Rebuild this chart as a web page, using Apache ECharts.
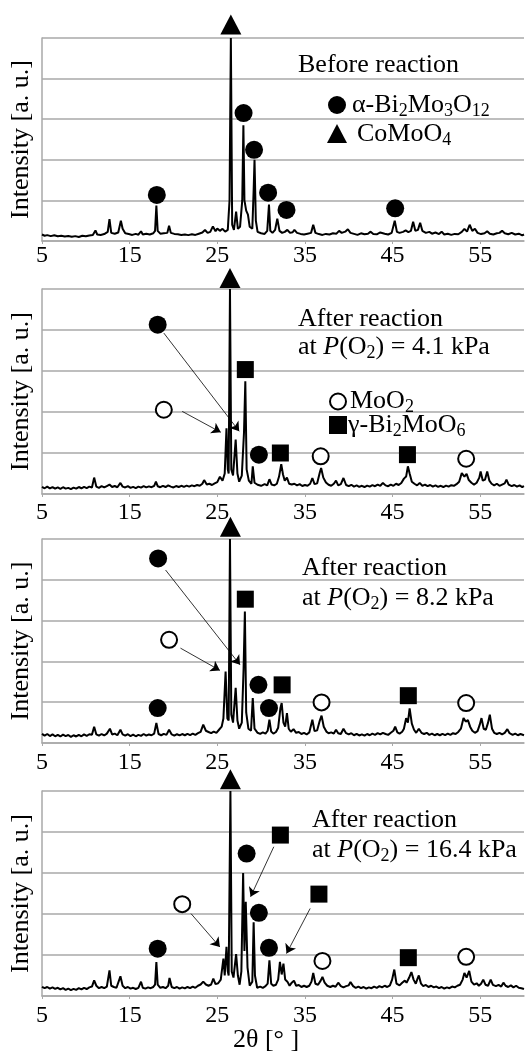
<!DOCTYPE html>
<html><head><meta charset="utf-8">
<script src="https://cdn.jsdelivr.net/npm/echarts@6/dist/echarts.min.js"></script>
<style>html,body{margin:0;padding:0;background:#fff}#c{width:527px;height:1052px}</style>
</head><body><div id="c"></div>
<script>
// ---- tick labels ----
const xTicks = [5, 15, 25, 35, 45, 55];
// ---- XRD patterns [2θ, intensity] ----
const beforeReaction = [[5,3.2],[5.3,2.6],[5.6,2.9],[6,2.4],[6.4,2.8],[6.8,2.3],[7.2,2.6],[7.6,2.2],[8,2.5],[8.4,2.1],[8.8,2.4],[9.2,2],[9.6,2.6],[10,2.3],[10.4,2.7],[10.8,3],[11.1,5.2],[11.3,3.2],[11.7,3],[12.1,3.4],[12.5,4.5],[12.7,10.8],[12.9,4],[13.3,3.6],[13.7,4.2],[14,10],[14.2,6],[14.5,3.8],[14.9,3.4],[15.3,3],[15.7,3.5],[16,3.1],[16.3,4.8],[16.5,3.2],[16.9,3.6],[17.3,3.2],[17.7,3.8],[17.9,5],[18.05,17.5],[18.2,5],[18.5,3.6],[18.9,3.8],[19.3,4],[19.5,7.5],[19.7,4],[20.1,3.5],[20.5,3.3],[20.9,3],[21.3,3.2],[21.7,2.9],[22.1,3.3],[22.5,3],[22.9,3.6],[23.3,4.2],[23.6,5.4],[23.9,4],[24.2,4.5],[24.5,7.2],[24.8,4.8],[25,6.2],[25.3,5],[25.6,6],[25.9,4.6],[26.2,5.5],[26.4,20],[26.55,100],[26.7,8],[26.9,5.5],[27.15,14.5],[27.35,6],[27.6,7],[27.85,20],[27.98,57],[28.1,20],[28.3,15],[28.5,13],[28.7,7],[29,6],[29.15,25],[29.25,40],[29.4,10],[29.6,4.5],[30,3.8],[30.4,3.5],[30.7,5],[30.9,18],[31.05,5],[31.3,4],[31.6,5.5],[31.85,11],[32.1,5],[32.4,4],[32.7,4.5],[33,5.5],[33.3,4],[33.6,4.3],[33.8,5.5],[34.1,4],[34.5,3.5],[34.9,3.2],[35.3,3.6],[35.7,4],[35.95,8],[36.2,4],[36.6,3.4],[37,3],[37.4,3.5],[37.8,3.2],[38.2,3.8],[38.6,3.6],[38.9,5],[39.2,4],[39.6,4.6],[39.9,5.8],[40.2,4],[40.6,3.5],[41,3],[41.4,3.8],[41.8,3.3],[42.2,3.6],[42.5,4.6],[42.8,3.5],[43.2,3.3],[43.6,4.2],[43.8,4.8],[44.1,3.6],[44.5,3.2],[44.9,4],[45.25,10],[45.5,4.5],[45.8,4],[46.2,4.5],[46.5,5.2],[46.8,4.4],[47.1,5],[47.35,9.5],[47.6,5],[47.9,5.5],[48.15,9],[48.4,5],[48.8,4],[49.2,4.5],[49.5,3.6],[49.9,4.2],[50.3,3.4],[50.6,4.6],[50.9,3.2],[51.3,3.6],[51.7,3],[52.1,3.5],[52.5,3.3],[52.9,4.5],[53.2,6],[53.5,4.6],[53.8,8],[54.1,5],[54.4,6],[54.7,4],[55.1,3.4],[55.5,3.8],[55.8,4.8],[56.1,3.6],[56.5,3.2],[56.9,3.8],[57.2,4],[57.5,5],[57.8,3.8],[58.2,3.3],[58.6,4],[59,3.2],[59.4,3.6],[59.8,2.8],[60,3.2]];
const after41 = [[5,3.5],[5.3,2.8],[5.6,3.6],[5.9,2.7],[6.2,3.4],[6.5,2.6],[6.8,3.2],[7.1,2.5],[7.4,3.3],[7.7,2.6],[8,3],[8.3,2.4],[8.6,3.1],[8.9,2.6],[9.2,3.4],[9.5,2.8],[9.8,3.5],[10.1,2.9],[10.4,3.6],[10.7,3.2],[10.95,8],[11.2,3.6],[11.5,3],[11.8,3.8],[12.1,3.2],[12.4,3.9],[12.7,4.6],[13,3.4],[13.3,3.9],[13.6,3.3],[13.95,5.4],[14.2,3.6],[14.5,3.2],[14.8,3.8],[15.1,3],[15.4,3.5],[15.7,2.9],[16,3.6],[16.3,3.1],[16.6,3.8],[16.9,3.2],[17.2,3.7],[17.5,3.3],[17.8,4],[18,6],[18.2,3.8],[18.5,3.3],[18.8,4],[19.1,3.4],[19.4,4.2],[19.7,3.6],[20,3.2],[20.3,3.9],[20.6,3.4],[20.9,4],[21.2,3.5],[21.5,4.1],[21.8,3.6],[22.1,4.2],[22.4,3.8],[22.7,4.4],[23,4],[23.3,5],[23.5,6.8],[23.8,4.6],[24.1,5],[24.4,4.4],[24.7,5.2],[25,5.8],[25.3,8.4],[25.6,6.5],[25.85,10],[26.05,32],[26.2,12],[26.3,10],[26.45,100],[26.6,12],[26.8,9],[27.1,26.5],[27.3,10],[27.5,6],[27.8,9],[28.05,30],[28.2,55],[28.35,12],[28.6,6.5],[28.9,5],[29.05,13.5],[29.25,5.5],[29.6,4.5],[30,4],[30.4,4.8],[30.7,4.2],[30.95,7.2],[31.2,4.6],[31.5,4.2],[31.8,5],[32.05,8.5],[32.3,14.6],[32.5,9.5],[32.7,6.5],[32.95,8],[33.2,5],[33.5,4.6],[33.8,5],[34.1,4.2],[34.4,4.8],[34.7,3.9],[35,4.4],[35.3,4],[35.6,5],[35.85,7.8],[36.1,4.8],[36.4,5.2],[36.7,10.5],[36.85,12.7],[37.1,8],[37.4,5.6],[37.7,4.5],[38,4],[38.3,5],[38.55,6.5],[38.8,4.2],[39.1,4.8],[39.4,7.8],[39.7,4.4],[40,3.8],[40.3,4.5],[40.6,3.6],[40.9,4.2],[41.2,3.5],[41.5,4],[41.8,3.4],[42.1,4.1],[42.4,3.6],[42.7,4.3],[43,3.8],[43.3,4.6],[43.6,4],[43.9,5.4],[44.2,4.2],[44.5,3.8],[44.8,4.6],[45.1,4],[45.4,5],[45.7,4.4],[46,5.4],[46.3,7.5],[46.55,8.5],[46.75,13.5],[46.95,10],[47.2,6],[47.5,5],[47.8,4.2],[48.1,5.4],[48.4,4],[48.7,4.6],[49,3.8],[49.3,4.4],[49.6,3.6],[49.9,4.2],[50.2,3.5],[50.5,4],[50.8,3.4],[51.1,4.1],[51.4,3.6],[51.7,4.3],[52,4],[52.3,4.8],[52.6,6],[52.9,10.2],[53.2,8.5],[53.45,9.8],[53.7,6.8],[54,5.5],[54.3,4.6],[54.6,5.5],[54.9,8],[55.05,11],[55.3,6.5],[55.55,7],[55.8,11],[56.05,6.5],[56.3,5],[56.6,4.2],[56.9,5],[57.2,4],[57.5,4.6],[57.8,5.2],[58,7],[58.25,4.6],[58.6,3.8],[58.9,4.4],[59.2,3.6],[59.5,4.2],[59.8,3.4],[60,3.8]];
const after82 = [[5,4.5],[5.3,3.6],[5.6,4.4],[5.9,3.4],[6.2,4.2],[6.5,3.3],[6.8,4],[7.1,3.2],[7.4,4.1],[7.7,3.4],[8,3.9],[8.3,3],[8.6,3.8],[8.9,3.2],[9.2,4],[9.5,3.3],[9.8,4.2],[10.1,3.5],[10.4,4.3],[10.7,4],[10.95,8],[11.2,4.2],[11.5,3.6],[11.8,4.4],[12.1,3.7],[12.4,4.6],[12.75,7],[13,4.2],[13.3,4.6],[13.6,3.8],[13.95,6.5],[14.2,4.2],[14.5,3.6],[14.8,4.3],[15.1,3.4],[15.4,4.1],[15.7,3.3],[16,4],[16.3,3.5],[16.6,4.4],[16.9,3.6],[17.2,4.2],[17.5,3.8],[17.8,4.6],[18.05,9.8],[18.3,4.4],[18.6,3.8],[18.9,4.5],[19.2,4],[19.5,6.5],[19.8,4.2],[20.1,3.6],[20.4,4.3],[20.7,3.7],[21,4.4],[21.3,3.8],[21.6,4.5],[21.9,3.9],[22.2,4.6],[22.5,4],[22.8,4.8],[23.1,5.5],[23.4,9],[23.7,6],[24,5.4],[24.3,4.8],[24.6,5.6],[24.9,5],[25.2,6.5],[25.5,8],[25.7,12],[25.95,35],[26.15,12],[26.3,11],[26.45,100],[26.6,14],[26.8,10],[27.1,27],[27.3,11],[27.5,7],[27.8,10],[28,36],[28.15,64.4],[28.3,15],[28.55,7],[28.85,6],[29.05,22],[29.25,7],[29.6,5],[29.9,4.5],[30.2,5.2],[30.5,4.6],[30.75,6],[30.95,11.4],[31.15,5.6],[31.4,4.6],[31.7,5.4],[31.95,7.5],[32.2,17],[32.35,19.6],[32.55,10],[32.75,8],[32.95,14.7],[33.15,7],[33.4,5.5],[33.7,6.8],[34,5],[34.3,5.4],[34.6,4.4],[34.9,5],[35.2,4.2],[35.5,5.2],[35.85,11.4],[36.1,5.8],[36.4,6.2],[36.7,11],[36.9,13.4],[37.15,8],[37.45,5.6],[37.7,4.8],[38,5.2],[38.3,4.6],[38.55,6.5],[38.8,4.8],[39.1,4.4],[39.4,7],[39.7,4.8],[40,4.2],[40.3,4.8],[40.6,3.8],[40.9,4.5],[41.2,3.7],[41.5,4.2],[41.8,3.6],[42.1,4.4],[42.4,3.8],[42.7,4.6],[43,4],[43.3,4.8],[43.6,4.2],[43.9,5],[44.2,4.4],[44.5,4],[44.8,5],[45.1,6],[45.3,8],[45.55,5.2],[45.8,4.6],[46.1,5.5],[46.3,7],[46.55,12.2],[46.75,10],[46.95,17],[47.2,9.5],[47.45,6.5],[47.7,5],[48,7],[48.3,5],[48.6,4.4],[48.9,5],[49.2,4],[49.5,4.6],[49.8,3.8],[50.1,4.4],[50.4,3.8],[50.7,4.5],[51,3.9],[51.3,4.6],[51.6,4],[51.9,4.8],[52.2,4.4],[52.5,5.4],[52.8,7],[53.1,12.2],[53.35,10.5],[53.6,11.2],[53.85,8],[54.1,6],[54.4,5],[54.7,5.8],[54.95,9],[55.15,12.2],[55.4,7],[55.65,6.5],[55.9,10],[56.1,13.9],[56.35,7],[56.6,5],[56.9,4.4],[57.2,5],[57.5,4.2],[57.8,5],[58.1,6.8],[58.35,4.8],[58.7,4],[59,4.6],[59.3,3.8],[59.6,4.4],[60,3.8]];
const after164 = [[5,4.5],[5.3,3.8],[5.6,4.4],[5.9,3.6],[6.2,4.2],[6.5,3.5],[6.8,4],[7.1,3.2],[7.4,3.8],[7.7,3],[8,3.6],[8.3,2.9],[8.6,3.5],[8.9,3],[9.2,3.8],[9.5,3.2],[9.8,4],[10.1,3.4],[10.4,4.2],[10.7,4.6],[10.95,7.6],[11.2,5],[11.5,3.8],[11.8,4.4],[12.1,3.8],[12.4,4.6],[12.7,12.5],[12.9,5],[13.2,4.4],[13.5,4],[13.95,9.6],[14.2,5],[14.5,3.8],[14.8,4.4],[15.1,3.6],[15.4,4],[15.7,3.4],[16,4],[16.3,7],[16.5,4],[16.8,3.6],[17.1,4.2],[17.4,3.8],[17.7,4.4],[17.9,5.5],[18.05,16.6],[18.2,5.5],[18.5,4],[18.8,4.4],[19.1,3.8],[19.4,5],[19.55,8.8],[19.8,4.4],[20.1,3.8],[20.4,4.4],[20.7,3.6],[21,4.2],[21.3,3.7],[21.6,4.4],[21.9,3.8],[22.2,4.6],[22.5,4],[22.8,5],[23.1,5.6],[23.4,7],[23.7,5.6],[24,5],[24.3,5.6],[24.55,8.5],[24.8,5.8],[25.1,6.2],[25.4,8],[25.7,18.2],[25.85,10],[26.05,24],[26.2,12],[26.3,10],[26.5,100],[26.65,12],[26.85,9],[27.15,20.4],[27.35,10],[27.55,5.5],[27.75,12],[27.95,60],[28.1,22],[28.25,46],[28.45,14],[28.7,5],[29,7],[29.15,36],[29.3,10],[29.55,4],[29.9,4.6],[30.2,4],[30.5,4.8],[30.75,6],[30.95,17.4],[31.15,6],[31.4,5],[31.7,5.5],[31.95,8],[32.15,16.6],[32.35,10.5],[32.55,15.8],[32.75,8],[33,7],[33.25,5],[33.5,6.5],[33.75,7.5],[34,5],[34.3,5.4],[34.6,4.4],[34.9,5],[35.2,4.4],[35.5,5],[35.75,7],[35.95,11.2],[36.2,6],[36.5,5.5],[36.8,7.5],[37,9.3],[37.25,6.5],[37.55,5],[37.9,4.4],[38.2,5],[38.5,4.5],[38.8,6.5],[39.1,4.8],[39.4,4.2],[39.7,4.8],[40,5.2],[40.2,6.8],[40.5,4.8],[40.8,4],[41.1,4.6],[41.4,3.8],[41.7,4.4],[42,3.6],[42.3,4.2],[42.6,3.8],[42.9,4.6],[43.2,4],[43.5,4.8],[43.8,4.2],[44.1,5],[44.4,4.4],[44.7,5.2],[44.95,8],[45.2,12.9],[45.45,6],[45.8,5.2],[46.1,6.5],[46.4,7.5],[46.6,6.5],[46.9,9],[47.15,11.7],[47.4,8],[47.65,6],[47.85,8.5],[48,10],[48.25,6],[48.5,4.8],[48.8,5.4],[49.1,4.4],[49.4,5],[49.7,4.2],[50,4.6],[50.3,3.8],[50.6,4.4],[50.9,3.6],[51.2,4.2],[51.5,3.8],[51.8,4.6],[52.1,4.2],[52.4,5],[52.7,5.5],[53,8],[53.2,11.2],[53.45,9],[53.75,12.2],[54,7],[54.3,5.5],[54.6,6.2],[54.85,5],[55.1,6],[55.35,8],[55.6,5.5],[55.9,5],[56.2,8],[56.45,5.4],[56.8,4.8],[57.1,5.4],[57.4,4.6],[57.65,6.5],[57.9,5],[58.2,4.4],[58.5,5.2],[58.8,4.2],[59.1,5],[59.4,4],[59.7,3.8],[60,3.4]];

// ---- phase markers [2θ, intensity] ----
const p1Circle = [[18.1,22.7],[28.0,63],[29.2,44.9],[30.8,23.8],[32.9,15.3],[45.3,16.1]];
const p1Tri = [[26.55,106.6]];
const p2Circle = [[18.2,82.6],[29.75,19.2]];
const p2Open = [[18.9,41.1],[36.8,18.4],[53.4,17.2]];
const p2Square = [[28.2,60.7],[32.2,20],[46.7,19.2]];
const p2Tri = [[26.45,105.4]];
const p2Arrows = [[[18.9,78.5],[27.5,30.6]],[[21.0,40.3],[25.4,30.1]]];
const p3Circle = [[18.25,90.5],[29.7,28.5],[30.9,17.1],[18.2,17.1]];
const p3Open = [[19.5,50.6],[36.9,19.9],[53.4,19.6]];
const p3Square = [[28.2,70.5],[32.4,28.5],[46.8,23.2]];
const p3Tri = [[26.5,106]];
const p3Arrows = [[[19.1,84.8],[27.6,38.3]],[[20.8,46.5],[25.3,35.6]]];
const p4Circle = [[18.2,23.1],[28.35,69.5],[29.75,40.6],[30.9,23.5]];
const p4Open = [[21.0,44.8],[37.0,17.1],[53.4,19.1]];
const p4Square = [[32.2,78.5],[36.6,49.7],[46.8,18.7]];
const p4Tri = [[26.5,105.7]];
const p4Arrows = [[[22.0,40.2],[25.3,23.9]],[[31.45,72.8],[28.8,48.4]],[[35.6,42.7],[32.9,20.7]]];

const FONT = 'Liberation Serif';
const patterns = [beforeReaction, after41, after82, after164];
const grids = [
  {top: 38, height: 203, margin: 3},
  {top: 289, height: 205, margin: 7},
  {top: 539, height: 204, margin: 8},
  {top: 791, height: 205, margin: 8}
];
const markerSets = [
  {circle: p1Circle, open: [], square: [], tri: p1Tri, arrows: []},
  {circle: p2Circle, open: p2Open, square: p2Square, tri: p2Tri, arrows: p2Arrows},
  {circle: p3Circle, open: p3Open, square: p3Square, tri: p3Tri, arrows: p3Arrows},
  {circle: p4Circle, open: p4Open, square: p4Square, tri: p4Tri, arrows: p4Arrows}
];
const GRID_C = '#a9a9a9';

const option = {
  animation: false,
  backgroundColor: '#fff',
  grid: grids.map(g => ({left: 41, right: 3, top: g.top, height: g.height})),
  xAxis: grids.map((g, i) => ({
    gridIndex: i, type: 'value', min: 5, max: 60, interval: 10,
    axisLine: {lineStyle: {color: GRID_C, width: 1.5}},
    axisTick: {show: true, length: 3, lineStyle: {color: GRID_C}},
    splitLine: {show: false},
    axisLabel: {color: '#000', fontFamily: FONT, fontSize: 24, margin: g.margin, showMaxLabel: false,
      formatter: v => xTicks.includes(v) ? String(v) : ''}
  })),
  yAxis: grids.map((g, i) => ({
    gridIndex: i, type: 'value', min: 0, max: 100, interval: 20,
    name: 'Intensity [a. u.]', nameLocation: 'middle', nameGap: 8,
    nameTextStyle: {color: '#000', fontFamily: FONT, fontSize: 26},
    axisLine: {show: true, lineStyle: {color: GRID_C, width: 1.5}},
    axisTick: {show: false}, axisLabel: {show: false},
    splitLine: {show: true, lineStyle: {color: GRID_C, width: 1.5}}
  })),
  series: [],
  graphic: []
};

patterns.forEach((d, i) => {
  option.series.push({type: 'line', xAxisIndex: i, yAxisIndex: i, data: d, showSymbol: false,
    lineStyle: {color: '#000', width: 2}, z: 2, silent: true});
  const m = markerSets[i];
  option.series.push({type: 'lines', coordinateSystem: 'cartesian2d', xAxisIndex: i, yAxisIndex: i,
    data: m.arrows.map(a => ({coords: a})), symbol: ['none', 'arrow'], symbolSize: 9,
    lineStyle: {color: '#000', width: 0.8, opacity: 1}, z: 3});
  const sc = (data, symbol, size, style) => ({type: 'scatter', xAxisIndex: i, yAxisIndex: i, data,
    symbol, symbolSize: size, clip: false, itemStyle: Object.assign({opacity: 1}, style), z: 4});
  option.series.push(sc(m.circle, 'circle', 18, {color: '#000'}));
  option.series.push(sc(m.open, 'circle', 16, {color: '#fff', borderColor: '#000', borderWidth: 2}));
  option.series.push(sc(m.square, 'rect', 17, {color: '#000'}));
  option.series.push(sc(m.tri, 'triangle', [21, 20], {color: '#000'}));
});

const rich = {
  n: {fontFamily: FONT, fontSize: 26, color: '#000', lineHeight: 30, verticalAlign: 'middle'},
  i: {fontFamily: FONT, fontSize: 26, color: '#000', lineHeight: 30, fontStyle: 'italic', verticalAlign: 'middle'},
  s: {fontFamily: FONT, fontSize: 18, color: '#000', lineHeight: 19, verticalAlign: 'bottom'}
};
function txt(x, y, text) {
  return {type: 'text', x, y, z: 10, style: {text, rich, align: 'left', verticalAlign: 'middle',
    textAlign: 'left', textVerticalAlign: 'middle'}};
}
option.graphic = [
  txt(298, 65, '{n|Before reaction}'),
  {type: 'circle', shape: {cx: 337, cy: 105, r: 9}, style: {fill: '#000'}, z: 10},
  txt(352, 105, '{n|α-Bi}{s|2}{n|Mo}{s|3}{n|O}{s|12}'),
  {type: 'polygon', shape: {points: [[337, 124], [347, 143], [327, 143]]}, style: {fill: '#000'}, z: 10},
  txt(357, 134, '{n|CoMoO}{s|4}'),
  txt(298, 319, '{n|After reaction}'),
  txt(298, 347, '{n|at }{i|P}{n|(O}{s|2}{n|) = 4.1 kPa}'),
  {type: 'circle', shape: {cx: 338, cy: 401.5, r: 8}, style: {fill: '#fff', stroke: '#000', lineWidth: 2}, z: 10},
  txt(350, 401, '{n|MoO}{s|2}'),
  {type: 'rect', shape: {x: 329, y: 416, width: 18, height: 18}, style: {fill: '#000'}, z: 10},
  txt(348, 425, '{n|γ-Bi}{s|2}{n|MoO}{s|6}'),
  txt(302, 568, '{n|After reaction}'),
  txt(302, 598, '{n|at }{i|P}{n|(O}{s|2}{n|) = 8.2 kPa}'),
  txt(312, 820, '{n|After reaction}'),
  txt(312, 850, '{n|at }{i|P}{n|(O}{s|2}{n|) = 16.4 kPa}'),
  txt(233, 1040, '{n|2θ [° ]}')
];

const chart = echarts.init(document.getElementById('c'), null, {renderer: 'canvas'});
chart.setOption(option);
</script></body></html>
